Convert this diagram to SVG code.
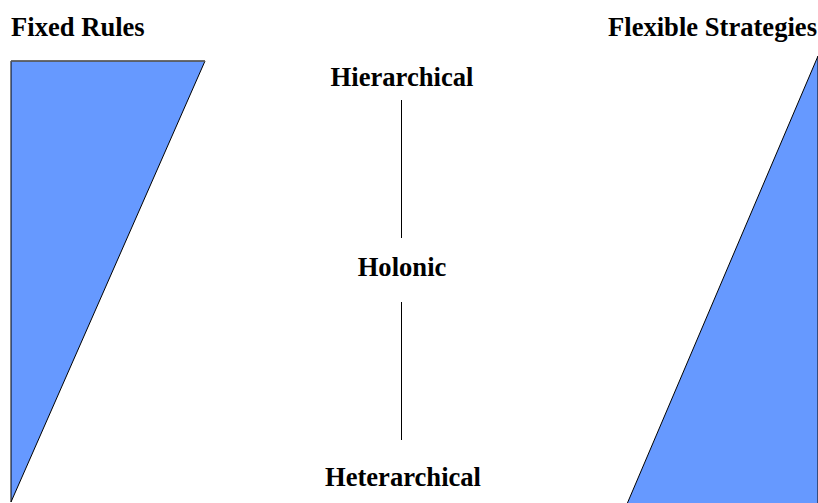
<svg xmlns="http://www.w3.org/2000/svg" width="818" height="503" viewBox="0 0 818 503">
<style>
.t{font-family:"Liberation Serif","Times New Roman",serif;font-weight:bold;font-size:26.6px;fill:#000}
.m{text-anchor:middle}
.shape{fill:#6699ff;stroke:#000;stroke-width:1}
.c{stroke:#000;stroke-width:1;fill:none}
</style>
<rect width="818" height="503" fill="#fff"/>
<g id="fixed-rules">
<polygon class="shape" points="11,61 205,61 11,502"/>
<line x1="11" y1="61" x2="205" y2="61" stroke="#666" stroke-width="1.5"/>
<text class="t" x="11" y="36">Fixed Rules</text>
</g>
<g id="flexible-strategies">
<polygon class="shape" points="818,56 818,504 627,504"/>
<text class="t" x="817" y="36" text-anchor="end">Flexible Strategies</text>
</g>
<g id="hierarchical"><text class="t m" x="402" y="86">Hierarchical</text></g>
<g id="holonic"><text class="t m" x="402" y="276">Holonic</text></g>
<g id="heterarchical"><text class="t m" x="403" y="486">Heterarchical</text></g>
<g id="connectors">
<line class="c" x1="401.5" y1="100" x2="401.5" y2="238"/>
<line class="c" x1="401.5" y1="302" x2="401.5" y2="440"/>
</g>
</svg>
